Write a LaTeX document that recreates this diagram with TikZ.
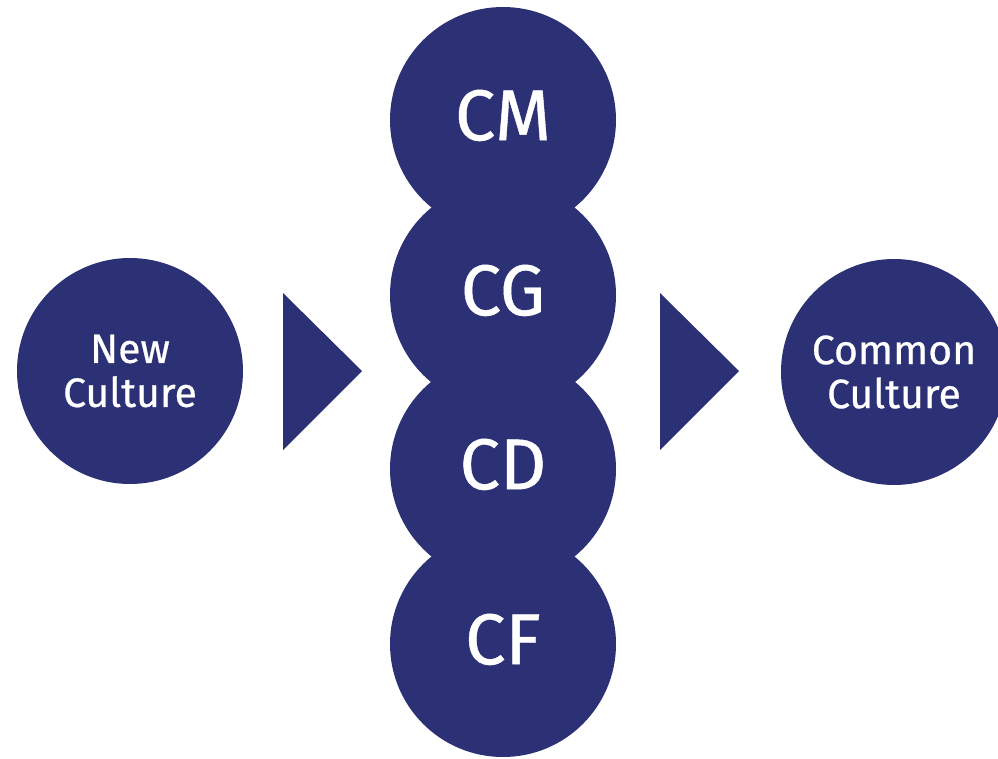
\documentclass[tikz,border=0pt]{standalone}
\usepackage{fontspec}
\setmainfont{Fira Sans}
\newfontfamily\medfont[FakeBold=0.6]{Fira Sans}
\definecolor{navy}{RGB}{43,49,116}
\begin{document}
\begin{tikzpicture}[x=1pt,y=-1pt,
  disc/.style={circle,fill=navy,minimum size=226pt,inner sep=0pt,text=white,align=center},
  big/.style={font=\medfont\fontsize{72}{74}\selectfont,text depth=10pt},
  small/.style={font=\medfont\fontsize{41}{44}\selectfont},
  tri/.style={fill=navy}]
\useasboundingbox (0,0) rectangle (998,759);
\node[disc,big] (cf) at (503,644) {CF};
\node[disc,big] (cd) at (503,469) {CD};
\node[disc,big] (cg) at (503,295) {CG};
\node[disc,big] (cm) at (503,120) {CM};
\node[disc,small] (new) at (130,371) {New\\Culture};
\node[disc,small] (common) at (894,372) {Common\\Culture};
\fill[tri] (283,293) -- (362,371) -- (283,450) -- cycle;
\fill[tri] (660,293) -- (739,371) -- (660,450) -- cycle;
\end{tikzpicture}
\end{document}
